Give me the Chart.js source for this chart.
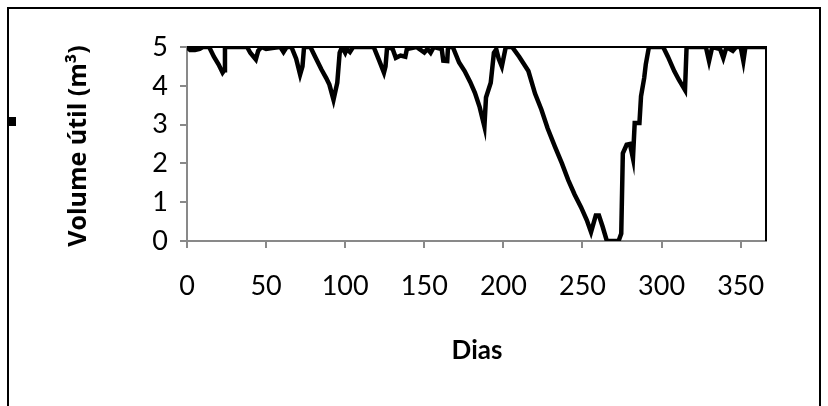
<!DOCTYPE html>
<html>
<head>
<meta charset="utf-8">
<script src="https://cdn.jsdelivr.net/npm/chart.js@4.4.1/dist/chart.umd.min.js"></script>
<style>
  html, body { margin: 0; padding: 0; background: #fff; }
  canvas { display: block; }
</style>
</head>
<body>
<canvas id="volumeChart" width="828" height="406"></canvas>
<script>
// dias e volume útil
const days = [0, 2, 5, 8, 10, 14, 17, 20, 22.5, 23.5, 24, 38, 40, 43.5, 45, 47, 50, 55, 59, 61, 63,
    66, 69, 71.5, 73, 74, 78, 81, 85, 88, 90, 92.6, 94, 95, 96.5, 98, 100, 101, 103, 105,
    118, 121, 124.5, 125.5, 126.5, 130, 132, 135, 138, 139, 145, 150, 152, 154, 156, 161, 162, 164.5, 165,
    168, 172, 175.5, 179, 182, 185, 188, 189, 192, 194, 195.5, 197, 199, 201.5, 205.5,
    210, 215.8, 220, 224, 228, 232.5, 237, 241, 245, 249, 252.7, 255.4, 258.4, 260.4, 262.8, 265.4,
    272.8, 274.5, 275.5, 277.9, 280, 281.9, 283, 286, 287, 289, 290, 292, 301, 304, 308, 311, 314.8, 315.8,
    328, 330, 332, 337, 339, 341, 345, 347, 350, 351.7, 353, 366];
const volume = [5, 4.92, 4.92, 4.95, 5, 5, 4.75, 4.55, 4.34, 4.4, 5, 5, 4.85, 4.68, 4.9, 5, 4.95, 4.98, 5, 4.87, 5,
    5, 4.7, 4.29, 4.5, 5, 5, 4.75, 4.42, 4.2, 4.03, 3.64, 3.9, 4.08, 4.85, 5, 4.85, 4.95, 4.87, 5,
    5, 4.7, 4.34, 4.5, 5, 4.95, 4.72, 4.78, 4.75, 4.95, 5, 4.86, 4.95, 4.85, 5, 4.95, 4.65, 4.64, 5,
    5, 4.6, 4.38, 4.1, 3.82, 3.45, 2.95, 3.7, 4.08, 4.85, 4.94, 4.7, 4.5, 5, 5,
    4.75, 4.38, 3.8, 3.39, 2.9, 2.44, 2.0, 1.57, 1.2, 0.88, 0.54, 0.23, 0.66, 0.66, 0.36, 0,
    0, 0.19, 2.26, 2.48, 2.5, 2.13, 3.04, 3.04, 3.73, 4.2, 4.55, 5, 5, 4.75, 4.38, 4.15, 3.89, 5,
    5, 4.64, 5, 4.95, 4.72, 5, 4.9, 5, 5, 4.64, 5, 5];

const xTitle = 'Dias';
const yTitle = 'Volume útil (m³)';

const axisGray = '#898989';
const fontName = "Lato, 'Open Sans', sans-serif";

// moldura, borda da área de plotagem e títulos dos eixos
const framePlugin = {
    id: 'frame',
    beforeDraw(chart) {
        const ctx = chart.ctx;
        ctx.save();
        ctx.fillStyle = '#fff';
        ctx.fillRect(0, 0, chart.width, chart.height);
        ctx.strokeStyle = '#000';
        ctx.lineWidth = 2;
        ctx.beginPath();
        ctx.moveTo(8, chart.height);
        ctx.lineTo(8, 8);
        ctx.lineTo(820, 8);
        ctx.lineTo(820, chart.height);
        ctx.stroke();
        ctx.fillStyle = '#000';
        ctx.fillRect(8, 117, 8, 9);
        ctx.restore();
    },
    beforeDatasetsDraw(chart) {
        const { ctx, chartArea } = chart;
        ctx.save();
        ctx.strokeStyle = '#000';
        ctx.lineWidth = 2;
        ctx.beginPath();
        ctx.moveTo(chartArea.left, chartArea.top);
        ctx.lineTo(chartArea.right, chartArea.top);
        ctx.lineTo(chartArea.right, chartArea.bottom);
        ctx.stroke();
        ctx.restore();
    },
    afterDraw(chart) {
        const ctx = chart.ctx;
        ctx.save();
        ctx.fillStyle = '#000';
        ctx.textAlign = 'center';
        ctx.textBaseline = 'middle';
        ctx.font = "bold 26px " + fontName;
        ctx.fillText(xTitle, 477, 351);
        ctx.translate(79, 146);
        ctx.rotate(-Math.PI / 2);
        ctx.font = "bold 25px 'Open Sans', sans-serif";
        ctx.fillText(yTitle, 0, 0);
        ctx.restore();
    }
};

new Chart(document.getElementById('volumeChart'), {
    type: 'line',
    data: {
        datasets: [{
            data: days.map((d, i) => ({ x: d, y: volume[i] })),
            borderColor: '#000',
            borderWidth: 4.5,
            pointRadius: 0,
            tension: 0,
            borderJoinStyle: 'miter'
        }]
    },
    options: {
        responsive: false,
        animation: false,
        devicePixelRatio: 1,
        layout: { padding: { left: 0, top: 47, right: 62, bottom: 0 } },
        plugins: { legend: { display: false }, tooltip: { enabled: false } },
        scales: {
            x: {
                type: 'linear',
                min: 0,
                max: 366,
                grid: { drawOnChartArea: false, drawTicks: true, tickLength: 7, color: axisGray, lineWidth: 2 },
                border: { color: axisGray, width: 2 },
                ticks: { stepSize: 50, includeBounds: false, padding: 22, color: '#000', maxRotation: 0,
                    font: { family: fontName, size: 27 } },
                afterFit(scale) { scale.height = 406 - 241; }
            },
            y: {
                min: 0,
                max: 5,
                grid: { drawOnChartArea: false, drawTicks: true, tickLength: 7, color: axisGray, lineWidth: 2 },
                border: { color: axisGray, width: 2 },
                ticks: { stepSize: 1, padding: 12, color: '#000',
                    font: { family: fontName, size: 27 } },
                afterFit(scale) { scale.width = 187; }
            }
        }
    },
    plugins: [framePlugin]
});
</script>
</body>
</html>
